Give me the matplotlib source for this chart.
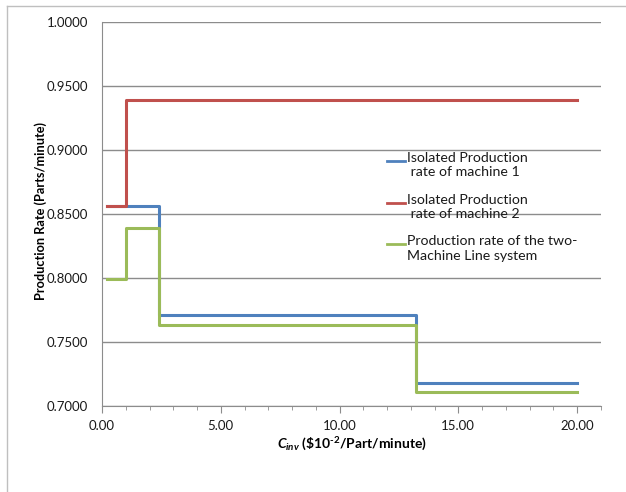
import matplotlib
matplotlib.use('Agg')
import matplotlib.pyplot as plt
from matplotlib.lines import Line2D
from matplotlib.ticker import MultipleLocator, FormatStrFormatter

plt.rcParams['font.family'] = ['Lato', 'DejaVu Sans']
plt.rcParams['mathtext.fontset'] = 'custom'
plt.rcParams['mathtext.it'] = 'Lato:bold:italic'
plt.rcParams['mathtext.rm'] = 'Lato:bold'
plt.rcParams['mathtext.bf'] = 'Lato:bold'

# step breakpoints (C_inv) and production rates
c_inv = [0.2, 1.0, 2.4, 13.2, 20.0]
rate_m1 = [0.856, 0.856, 0.771, 0.718, 0.718]
rate_m2 = [0.856, 0.939, 0.939, 0.939, 0.939]
rate_line = [0.799, 0.839, 0.763, 0.711, 0.711]

labels = ['Isolated Production\n rate of machine 1',
          'Isolated Production\n rate of machine 2',
          'Production rate of the two-\nMachine Line system']
colors = ['#4F81BD', '#C0504D', '#9BBB59']

W, H = 626, 492
fig = plt.figure(figsize=(W / 100, H / 100), dpi=100)
ax = fig.add_axes([102 / W, 1 - 406 / H, 498.75 / W, 384 / H])

for y, lab, col in zip([rate_m1, rate_m2, rate_line], labels, colors):
    ax.plot(c_inv, y, drawstyle='steps-post', color=col, lw=2.2, label=lab)

ax.set_xlim(0, 21)
ax.set_ylim(0.7, 1.0)
ax.yaxis.set_major_locator(MultipleLocator(0.05))
ax.yaxis.set_major_formatter(FormatStrFormatter('%.4f'))
ax.xaxis.set_minor_locator(MultipleLocator(1))
ax.xaxis.set_major_formatter(FormatStrFormatter('%.2f'))
ax.set_xticks([0, 5, 10, 15, 20])

ax.grid(axis='y', color='#8C8C8C', lw=1)
ax.set_axisbelow(True)
for s in ['top', 'right']:
    ax.spines[s].set_visible(False)
for s in ['left', 'bottom']:
    ax.spines[s].set_color('#8C8C8C')
ax.tick_params(axis='y', length=0, pad=10, labelsize=9.5, labelcolor='#1a1a1a')
ax.tick_params(axis='x', which='major', length=5, color='#8C8C8C', pad=5,
               labelsize=9.5, labelcolor='#1a1a1a')
ax.tick_params(axis='x', which='minor', length=3, color='#8C8C8C')

ax.set_ylabel('Production Rate (Parts/minute)', fontsize=9.2, fontweight='bold',
              va='center')
ax.yaxis.set_label_coords((41 - 102) / 498.75, (406 - 211) / 384)
ax.set_xlabel(r'$C_{inv}$ (\$10$^{\text{-2}}$/Part/minute)', fontsize=10,
              fontweight='bold', va='center')
ax.xaxis.set_label_coords((352 - 102) / 498.75, (406 - 444) / 384)

# legend drawn by hand so the key sits beside the first text line
for i, (lab, col) in enumerate(zip(labels, colors)):
    ly = 161 + i * 41.5
    fig.add_artist(Line2D([387 / W, 405 / W], [1 - ly / H, 1 - ly / H], color=col,
                          lw=2, transform=fig.transFigure))
    fig.text(407 / W, 1 - (ly - 9) / H, lab, fontsize=10.2, va='top', ha='left',
             color='#1a1a1a', linespacing=1.25)

# chart area border (top and left edges visible)
fig.add_artist(Line2D([7 / W, 7 / W], [0, 1 - 6 / H], color='#BFBFBF',
                      lw=1, transform=fig.transFigure))
fig.add_artist(Line2D([7 / W, 1], [1 - 6 / H, 1 - 6 / H], color='#BFBFBF',
                      lw=1, transform=fig.transFigure))

fig.savefig('out.png', dpi=100)
